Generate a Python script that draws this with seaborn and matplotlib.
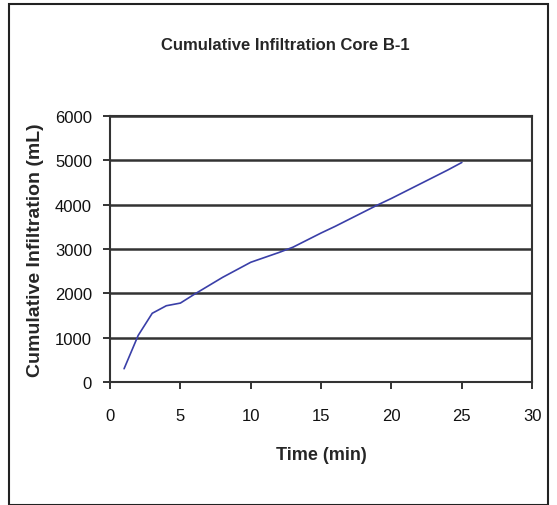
import matplotlib
matplotlib.use("Agg")
import matplotlib.pyplot as plt
import seaborn as sns
import pandas as pd
from matplotlib.patches import Rectangle

# Cumulative infiltration readings, core B-1
time_min = [1, 2, 3, 4, 5, 6, 7, 8, 9, 10, 11, 12, 13, 14, 15, 16, 17, 18, 19, 20, 21, 22, 23, 24, 25]
cum_ml = [300, 1050, 1550, 1720, 1780, 1980, 2170, 2360, 2530, 2700, 2810, 2920, 3040, 3200, 3360,
          3510, 3670, 3830, 3990, 4140, 4300, 4460, 4620, 4780, 4950]
x_ticks = [0, 5, 10, 15, 20, 25, 30]
y_ticks = [0, 1000, 2000, 3000, 4000, 5000, 6000]

df = pd.DataFrame({"Time (min)": time_min, "Cumulative Infiltration (mL)": cum_ml})

sns.set_theme(style="white")
plt.rcParams['font.family'] = ['Liberation Sans', 'DejaVu Sans']

fig = plt.figure(figsize=(5.57, 5.06), dpi=100)
ax = fig.add_axes([0.1975, 0.243, 0.758, 0.526])

sns.lineplot(data=df, x="Time (min)", y="Cumulative Infiltration (mL)", ax=ax,
             color="#3a3fa8", linewidth=1.2)

ax.set_xlim(0, 30)
ax.set_ylim(0, 6000)
ax.set_xticks(x_ticks)
ax.set_yticks(y_ticks)
ax.tick_params(axis="both", labelsize=12, length=5, width=1.2, direction="out",
               bottom=True, left=True, colors="#111111")
ax.tick_params(axis="x", pad=14)
ax.tick_params(axis="y", pad=8)
ax.yaxis.grid(True, color="#333333", linewidth=1.8)
ax.set_axisbelow(True)
for s in ax.spines.values():
    s.set_color("#333333")
    s.set_linewidth(1.5)

ax.set_xlabel("Time (min)", fontsize=13, fontweight="bold", labelpad=16)
ax.set_ylabel("Cumulative Infiltration (mL)", fontsize=14, fontweight="bold", labelpad=8)
fig.text(0.512, 0.911, "Cumulative Infiltration Core B-1", ha="center", va="center",
         fontsize=12, fontweight="bold")

# outer chart border
fig.patches.append(Rectangle((0.016, 0.0), 0.968, 0.99, transform=fig.transFigure,
                             fill=False, edgecolor="#222222", linewidth=1.5))

fig.savefig("out.png", dpi=100)
